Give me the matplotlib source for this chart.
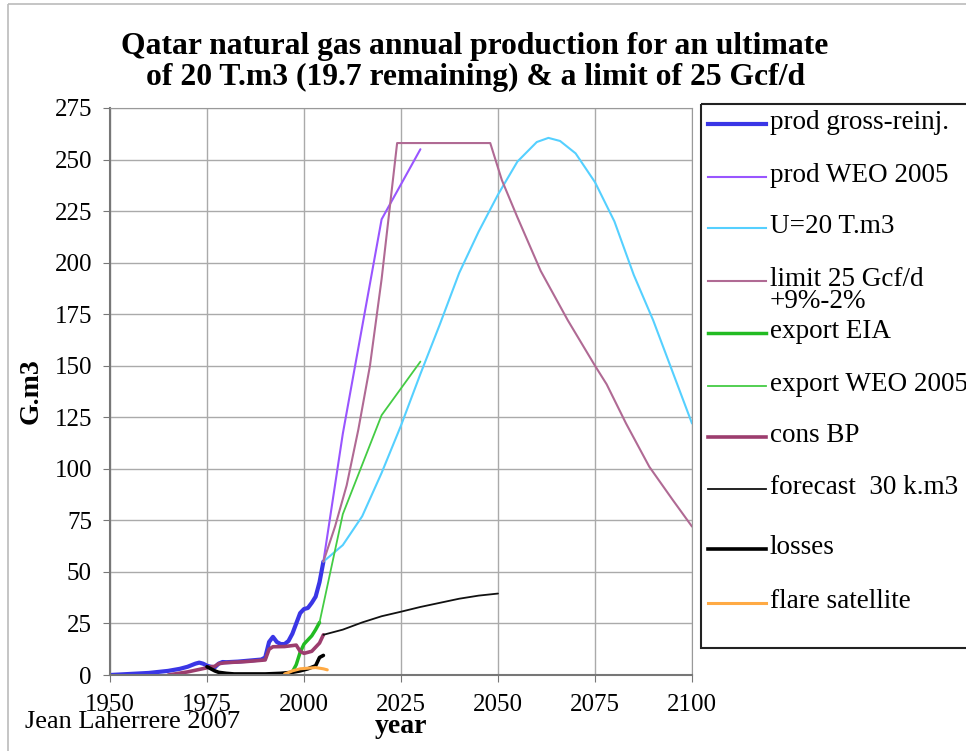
import matplotlib.pyplot as plt
from matplotlib.patches import Rectangle

plt.rcParams['font.family'] = ['Liberation Serif', 'DejaVu Serif']

# prod gross-reinj.
prod_years = [1950, 1955, 1960, 1965, 1968, 1970, 1972, 1973, 1974, 1975, 1976, 1977, 1978, 1979,
              1980, 1983, 1986, 1989, 1990, 1991, 1992, 1993, 1994, 1995, 1996, 1997, 1998, 1999,
              2000, 2001, 2002, 2003, 2004, 2005]
prod_vals = [0, 0.5, 1, 2, 3, 4, 5.5, 6, 5.5, 4.5, 4, 3.7, 5.5, 6.3,
             6.2, 6.5, 7, 7.5, 8.5, 16, 18.5, 16, 15, 15, 16.5, 20, 25, 30,
             32, 32.5, 35, 38, 45, 55]

# prod WEO 2005
weo_years = [2005, 2010, 2020, 2030]
weo_vals = [55, 117, 221, 255]

# U=20 T.m3
u20_years = [2005, 2010, 2015, 2020, 2025, 2030, 2035, 2040, 2045, 2050, 2055, 2060, 2063,
             2066, 2070, 2075, 2080, 2085, 2090, 2095, 2100]
u20_vals = [55, 63, 77, 98, 121, 146, 170, 195, 215, 233, 249, 258.5, 260.5,
            259, 253, 239, 220, 194, 172, 147, 122]

# limit 25 Gcf/d +9%-2%
lim_years = [2005, 2008, 2011, 2014, 2017, 2020, 2022, 2024, 2048, 2051, 2055, 2061, 2068,
             2075, 2078, 2083, 2089, 2095, 2100]
lim_vals = [55, 72, 92, 119, 150, 192, 225, 258, 258, 240, 222, 196, 172,
            150, 141, 122, 101, 85, 72]

# export EIA
eia_years = [1996, 1997, 1998, 1999, 2000, 2001, 2002, 2003, 2004]
eia_vals = [0, 1.5, 5, 11, 15, 17, 19, 22, 25.5]

# export WEO 2005
exw_years = [2004, 2010, 2020, 2030]
exw_vals = [25.5, 78, 126, 152]

# cons BP
cons_years = [1965, 1970, 1975, 1976, 1977, 1978, 1980, 1985, 1990, 1991, 1992, 1995, 1998,
              1999, 2000, 2001, 2002, 2003, 2004, 2005]
cons_vals = [0, 1.5, 3.5, 4, 4.2, 5.5, 6, 6.5, 7.3, 12.5, 13.7, 13.8, 14.5,
             11.5, 10.5, 11, 11.5, 13.5, 15.5, 19.5]

# forecast 30 k.m3
fc_years = [2005, 2010, 2015, 2020, 2025, 2030, 2035, 2040, 2045, 2050]
fc_vals = [19.5, 22, 25.5, 28.5, 30.7, 33, 35, 37, 38.5, 39.5]

# losses
loss_years = [1975, 1976, 1977, 1978, 1980, 1982, 1985, 1990, 1994, 1997, 1999, 2001, 2003,
              2004, 2005]
loss_vals = [4, 3, 2, 1.3, 0.8, 0.5, 0.5, 0.5, 0.8, 1.3, 2, 3, 4.5, 8.5, 9.5]

# flare satellite
flare_years = [1995, 1996, 1997, 1999, 2001, 2003, 2005, 2006]
flare_vals = [0.5, 1.2, 2, 3, 3.3, 3.6, 3, 2.5]

series = [
    ('prod gross-reinj.', prod_years, prod_vals, '#3a36e6', 3.0),
    ('prod WEO 2005', weo_years, weo_vals, '#9955ff', 1.5),
    ('U=20 T.m3', u20_years, u20_vals, '#55d0ff', 1.5),
    ('limit 25 Gcf/d\n+9%-2%', lim_years, lim_vals, '#b06a94', 1.5),
    ('export EIA', eia_years, eia_vals, '#22bb22', 2.5),
    ('export WEO 2005', exw_years, exw_vals, '#44cc44', 1.3),
    ('cons BP', cons_years, cons_vals, '#9c3d6e', 2.6),
    ('forecast  30 k.m3', fc_years, fc_vals, '#111111', 1.3),
    ('losses', loss_years, loss_vals, '#000000', 2.6),
    ('flare satellite', flare_years, flare_vals, '#ffaa44', 2.2),
]

fig = plt.figure(figsize=(9.66, 7.51), dpi=100)
ax = fig.add_axes([110 / 966, 1 - 675 / 751, 582 / 966, 567 / 751])

for name, xs, ys, col, lw in series:
    ax.plot(xs, ys, color=col, lw=lw, solid_capstyle='round')

ax.set_xlim(1950, 2100)
ax.set_ylim(0, 275)
ax.set_xticks(range(1950, 2101, 25))
ax.set_yticks(range(0, 276, 25))
ax.grid(True, color='#aaaaaa', lw=1.0)
ax.set_axisbelow(True)
for s in ax.spines.values():
    s.set_color('#999999')
ax.spines['left'].set_color('#777777')
ax.spines['left'].set_linewidth(1.5)
ax.spines['bottom'].set_color('#777777')
ax.spines['bottom'].set_linewidth(1.5)
ax.tick_params(axis='y', labelsize=18, length=5, color='#777777', pad=8)
ax.tick_params(axis='x', labelsize=18, length=5, color='#777777', pad=9)

ax.set_ylabel('G.m3', fontsize=20, fontweight='bold')
ax.yaxis.set_label_coords((44 - 110) / 582, 0.5)
ax.set_xlabel('year', fontsize=20, fontweight='bold')
ax.xaxis.set_label_coords(0.5, (675 - 714) / 567)

fig.text(475 / 966, 1 - 62 / 751, 'Qatar natural gas annual production for an ultimate\n'
         'of 20 T.m3 (19.7 remaining) & a limit of 25 Gcf/d',
         ha='center', va='center', fontsize=22.8, fontweight='bold', linespacing=1.08)
fig.text(25 / 966, 1 - 722 / 751, 'Jean Laherrere 2007', ha='left', va='center', fontsize=19)

# overlay in pixel coordinates for frame and legend box
ov = fig.add_axes([0, 0, 1, 1])
ov.set_xlim(0, 966)
ov.set_ylim(751, 0)
ov.axis('off')
ov.add_patch(Rectangle((8, 4), 1000, 1000, fill=False, ec='#bbbbbb', lw=1.2))
ov.add_patch(Rectangle((701, 104), 400, 544, fill=False, ec='#222222', lw=1.5))
leg_y = [124, 177, 228, 281, 333, 386, 437, 489, 549, 603]
for (name, xs, ys, col, lw), y in zip(series, leg_y):
    ov.plot([708, 766], [y, y], color=col, lw=lw)
    ov.text(770, y - 14, name, ha='left', va='top', fontsize=19.5, linespacing=0.82)

fig.savefig('out.png', dpi=100)
